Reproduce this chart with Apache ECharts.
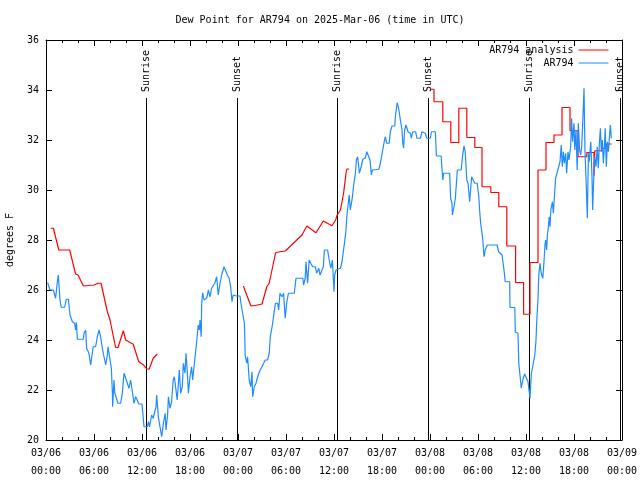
<!DOCTYPE html>
<html>
<head>
<meta charset="utf-8">
<script src="https://cdn.jsdelivr.net/npm/echarts@6/dist/echarts.min.js"></script>
<style>html,body{margin:0;padding:0;background:#fff}#c{width:640px;height:480px}</style>
</head>
<body>
<div id="c"></div>
<script>
// Hours since 03/06 00:00 UTC
var obsTime = [0.2,0.5,0.92,1.2,1.42,1.54,1.75,1.9,2.33,2.54,2.8,3.0,3.3,3.58,3.7,3.8,3.92,4.67,4.75,4.96,5.08,5.37,5.58,5.8,5.9,6.2,6.42,6.63,6.83,7.04,7.25,7.46,7.67,7.75,8.0,8.17,8.3,8.33,8.5,8.6,9.0,9.33,9.54,9.75,9.96,10.17,10.37,10.58,10.8,11.0,11.2,11.4,11.6,12.0,
12.25,12.67,12.8,12.95,13.2,13.4,13.75,13.83,14.04,14.25,14.46,14.67,14.9,15.0,15.2,15.3,15.5,15.7,15.9,16.04,16.25,16.4,16.67,16.83,17.04,17.17,17.37,17.5,17.67,17.8,18.0,18.2,18.33,18.5,18.63,18.83,19.04,19.17,19.25,19.4,19.46,19.58,19.75,20.08,20.3,20.5,20.7,20.9,21.1,21.33,21.54,21.75,21.96,22.25,22.5,22.67,22.9,23.08,23.25,23.4,23.6,23.8,24.25,
24.37,24.58,24.8,24.9,25.08,25.2,25.4,25.6,25.75,25.83,26.04,26.25,26.46,26.67,27.0,27.4,27.7,27.9,28.04,28.3,28.67,28.96,29.08,29.25,29.5,29.7,29.9,30.08,30.3,31.04,31.25,32.1,32.2,32.4,32.5,32.7,32.9,33.1,33.33,33.67,33.83,34.1,34.25,34.5,34.67,34.8,35.2,35.4,35.6,35.8,36.0,36.08,36.25,
36.8,37.0,37.2,37.33,37.5,37.6,37.83,37.9,38.04,38.25,38.46,38.67,38.8,38.96,39.17,39.4,39.6,39.9,40.1,40.3,40.5,40.67,40.8,41.6,41.8,42.0,42.2,42.4,42.6,42.9,43.04,43.25,43.6,43.67,43.9,44.08,44.3,44.5,44.6,44.7,44.83,45.0,45.25,45.54,45.67,45.83,46.2,46.37,46.8,47.0,47.4,47.6,48.04,48.17,48.67,
48.8,49.4,49.5,49.6,49.7,50.46,50.58,50.75,50.8,51.0,51.17,51.42,51.9,52.04,52.25,52.4,52.6,52.75,52.96,53.2,53.4,53.6,53.9,54.1,54.2,54.33,54.5,54.6,54.75,54.9,55.17,56.4,56.58,57.0,57.25,57.4,57.96,58.0,58.6,58.67,59.0,59.1,59.33,59.4,59.6,59.83,60.08,
60.25,60.5,60.67,60.8,61.0,61.1,61.25,61.33,61.5,61.6,61.75,61.9,62.1,62.25,62.37,62.46,62.58,62.67,62.8,62.9,63.0,63.1,63.3,63.42,63.58,63.7,63.9,64.04,64.25,64.4,64.54,64.67,64.8,64.96,65.08,65.25,65.37,65.58,65.7,65.83,66.0,66.1,66.25,66.4,66.54,66.7,66.83,66.96,67.08,67.25,67.37,67.5,67.58,67.67,67.8,67.9,68.1,68.25,68.33,68.46,68.58,68.75,68.9,69.04,69.17,69.3,69.42,69.54,69.67,69.8,69.9,70.04,70.17,70.3,70.42,70.54,70.67];
var obsDew = [26.3,26.0,26.0,25.67,26.33,26.6,25.6,25.31,25.31,25.63,25.63,25.0,24.73,24.67,24.4,24.7,24.03,24.03,24.27,24.4,23.67,23.47,23.0,23.07,23.73,23.73,24.13,24.4,24.13,23.67,23.33,23.0,23.4,23.73,23.73,22.87,21.87,21.33,22.4,21.87,21.47,21.47,21.87,22.67,22.73,22.27,22.07,22.4,22.4,21.47,21.73,21.6,21.44,21.44,
20.53,20.53,20.73,20.53,21.0,20.87,21.33,21.8,20.93,20.53,20.13,20.67,21.07,20.4,21.0,21.73,21.27,21.53,22.4,22.53,22.0,21.6,22.8,21.87,22.13,23.07,22.67,23.47,22.67,21.87,22.53,22.93,22.4,22.93,23.33,23.93,24.6,24.4,24.8,24.13,25.47,25.89,25.6,25.67,26.0,25.73,26.07,26.13,26.27,26.53,25.8,26.27,26.6,26.93,26.93,26.6,26.47,26.13,25.53,25.8,25.87,25.76,25.76,
25.47,25.07,24.67,23.4,23.07,23.33,22.4,22.13,22.73,21.73,22.13,22.27,22.53,22.73,22.93,23.2,23.2,23.47,24.13,24.6,25.47,25.47,25.2,25.87,25.73,25.87,24.87,25.47,25.87,25.87,26.47,26.47,26.2,26.47,27.13,26.27,27.2,27.07,26.93,26.93,26.67,26.87,26.6,26.8,26.93,27.6,27.6,27.2,26.87,27.2,25.93,26.6,26.8,
26.87,27.13,27.2,27.93,28.4,28.93,29.6,29.8,29.2,29.6,30.2,30.67,31.2,31.33,30.67,30.93,31.23,31.27,31.53,31.6,31.2,30.6,30.8,30.83,31.07,31.13,31.8,32.13,31.87,31.87,32.33,32.56,32.56,32.93,33.49,33.27,32.8,32.4,31.87,31.67,32.4,32.6,32.33,32.27,32.07,32.33,32.33,32.07,32.07,32.33,32.27,32.07,32.07,32.33,32.33,
31.36,31.36,30.83,30.4,30.67,30.67,29.67,29.47,29.0,29.33,29.67,30.8,30.8,31.27,31.77,31.53,30.4,30.27,29.53,30.53,30.47,30.27,30.27,29.73,29.2,28.67,28.27,28.0,27.33,27.6,27.8,27.8,27.53,27.4,26.8,26.33,26.33,25.3,25.3,24.31,24.27,23.07,22.33,22.07,22.4,22.64,22.63,
22.33,21.67,22.67,22.87,22.87,23.4,24.0,24.67,25.67,26.6,27.07,26.67,26.47,27.13,27.8,28.0,27.6,28.2,28.53,28.93,28.53,29.2,29.53,29.07,29.87,30.47,30.4,30.87,31.13,31.8,30.93,31.53,31.07,31.47,30.67,31.53,31.2,31.73,32.87,31.93,32.67,31.6,32.4,30.8,32.67,31.6,31.4,31.73,32.6,34.07,31.6,31.53,29.73,28.87,31.47,31.13,31.93,30.53,29.2,30.4,31.33,30.93,31.73,30.87,31.87,32.47,31.53,32.0,31.07,31.73,32.47,30.93,31.93,31.53,32.07,32.6,32.07];

var anaTime1 = [0.58,0.92,1.6,2.96,3.7,4.0,4.67,6.0,6.5,6.88,7.67,8.0,8.7,9.0,9.67,9.96,10.9,11.6,12.2,12.6,12.9,13.4,13.9];
var anaDew1  = [28.47,28.47,27.6,27.6,26.64,26.6,26.16,26.2,26.27,26.27,25.13,24.8,23.7,23.7,24.37,24.0,23.83,23.13,23.0,22.84,22.84,23.27,23.44];
var anaTime2 = [24.67,24.9,25.6,26.0,27.0,27.6,27.9,28.7,29.2,29.9,30.6,31.25,32.0,32.6,33.75,34.67,35.75,36.2,36.4,36.8,37.2,37.5,37.6,37.9];
var anaDew2  = [26.16,26.1,25.37,25.37,25.44,26.13,26.27,27.49,27.53,27.56,27.77,27.97,28.2,28.56,28.29,28.76,28.57,28.8,29.0,29.2,29.87,30.67,30.84,30.84];
var anaTime3 = [48.0,48.5,49.6,50.6,51.6,52.6,53.6,54.5,55.6,56.6,57.6,58.7,59.7,60.5,61.5,62.5,63.5,64.5,65.5,66.5,67.6,68.5,68.6,69.5,70.0,70.7];
var anaDew3  = [34.03,33.53,32.73,31.9,33.27,32.1,31.7,30.13,29.9,29.33,27.76,26.3,25.03,27.1,30.8,31.9,32.2,33.3,32.37,31.33,31.5,30.57,31.57,31.67,31.84,31.84];

var sunTime  = [12.5, 23.85, 36.35, 47.7, 60.35, 71.75];
var sunLabel = ['Sunrise','Sunset','Sunrise','Sunset','Sunrise','Sunset'];

var yTickMin = 20, yTickMax = 36, yTickStep = 2;
var xHours = 72, xTickStep = 6;

function zip(a, b) { return a.map(function (v, i) { return [v, b[i]]; }); }
function pad(n) { return (n < 10 ? '0' : '') + n; }

var FONT = 'DejaVu Sans Mono';
var chart = echarts.init(document.getElementById('c'), null, {renderer: 'canvas'});

var axisLineStyle = {color: '#000', width: 1};
var baseX = {
  type: 'value', min: 0, max: xHours, interval: xTickStep,
  axisLine: {show: true, onZero: false, lineStyle: axisLineStyle},
  axisTick: {show: true, inside: true, length: 6, lineStyle: axisLineStyle},
  minorTick: {show: true, splitNumber: 3, length: 3, lineStyle: axisLineStyle},
  splitLine: {show: false}
};
var baseY = {
  type: 'value', min: yTickMin, max: yTickMax, interval: yTickStep,
  axisLine: {show: true, onZero: false, lineStyle: axisLineStyle},
  axisTick: {show: true, inside: true, length: 6, lineStyle: axisLineStyle},
  splitLine: {show: false}
};

var lineTopValue = 33.68;

chart.setOption({
  animation: false,
  backgroundColor: '#fff',
  textStyle: {fontFamily: FONT},
  title: {
    text: 'Dew Point for AR794 on 2025-Mar-06 (time in UTC)',
    left: 'center', top: 10,
    textStyle: {fontFamily: FONT, fontSize: 10, fontWeight: 'normal', color: '#000'}
  },
  legend: {
    data: ['AR794 analysis', 'AR794'],
    orient: 'vertical', right: 26, top: 40, align: 'right',
    itemWidth: 30, itemHeight: 10, itemGap: 3,
    itemStyle: {opacity: 0},
    lineStyle: {width: 1},
    textStyle: {fontFamily: FONT, fontSize: 10, color: '#000', padding: [0, 0, 0, 0]}
  },
  grid: {left: 46, right: 18, top: 40, bottom: 40, containLabel: false, outerBoundsMode: 'none'},
  xAxis: [
    Object.assign({}, baseX, {
      position: 'bottom',
      axisLabel: {
        show: true, color: '#000', fontFamily: FONT, fontSize: 10, margin: 4, lineHeight: 18,
        formatter: function (h) {
          var day = 6 + Math.floor(h / 24);
          var hr = h % 24;
          return '03/' + pad(day) + '\n' + pad(hr) + ':00';
        }
      }
    }),
    Object.assign({}, baseX, {position: 'top', axisLabel: {show: false}})
  ],
  yAxis: [
    Object.assign({}, baseY, {
      position: 'left',
      name: 'degrees F', nameLocation: 'middle', nameGap: 31, nameRotate: 90,
      nameTextStyle: {fontFamily: FONT, fontSize: 10, color: '#000'},
      axisLabel: {show: true, color: '#000', fontFamily: FONT, fontSize: 10, margin: 7}
    }),
    Object.assign({}, baseY, {position: 'right', axisLabel: {show: false}})
  ],
  series: [
    {
      type: 'custom', name: 'sun', xAxisIndex: 0, yAxisIndex: 0,
      data: sunTime.map(function (t) { return [t, yTickMin]; }),
      encode: {x: 0, y: 1}, clip: false, silent: true, z: 1,
      renderItem: function (params, api) {
        var h = api.value(0);
        var b = api.coord([h, yTickMin]);
        var t = api.coord([h, lineTopValue]);
        var bx = Math.round(b[0]) + 0.5;
        return {
          type: 'group',
          children: [
            {type: 'line', shape: {x1: bx, y1: b[1], x2: bx, y2: t[1]}, style: {stroke: '#000', lineWidth: 1}},
            {type: 'text', x: bx, y: t[1] - 6, rotation: Math.PI / 2,
             style: {text: sunLabel[params.dataIndex], fill: '#000', font: '10px "' + FONT + '"', align: 'left', verticalAlign: 'middle'}}
          ]
        };
      }
    },
    {
      type: 'line', name: 'AR794 analysis', data: zip(anaTime1, anaDew1),
      symbol: 'none', lineStyle: {color: '#ff0000', width: 1.2}, itemStyle: {color: '#ff0000'}, z: 2
    },
    {
      type: 'line', name: 'AR794 analysis', data: zip(anaTime2, anaDew2),
      symbol: 'none', lineStyle: {color: '#ff0000', width: 1.2}, itemStyle: {color: '#ff0000'}, z: 2
    },
    {
      type: 'line', name: 'AR794 analysis', data: zip(anaTime3, anaDew3), step: 'end',
      symbol: 'none', lineStyle: {color: '#ff0000', width: 1.2}, itemStyle: {color: '#ff0000'}, z: 2
    },
    {
      type: 'line', name: 'AR794', data: zip(obsTime, obsDew),
      symbol: 'none', lineStyle: {color: '#1e8cff', width: 1.2}, itemStyle: {color: '#1e8cff'}, z: 3
    }
  ]
});
</script>
</body>
</html>
